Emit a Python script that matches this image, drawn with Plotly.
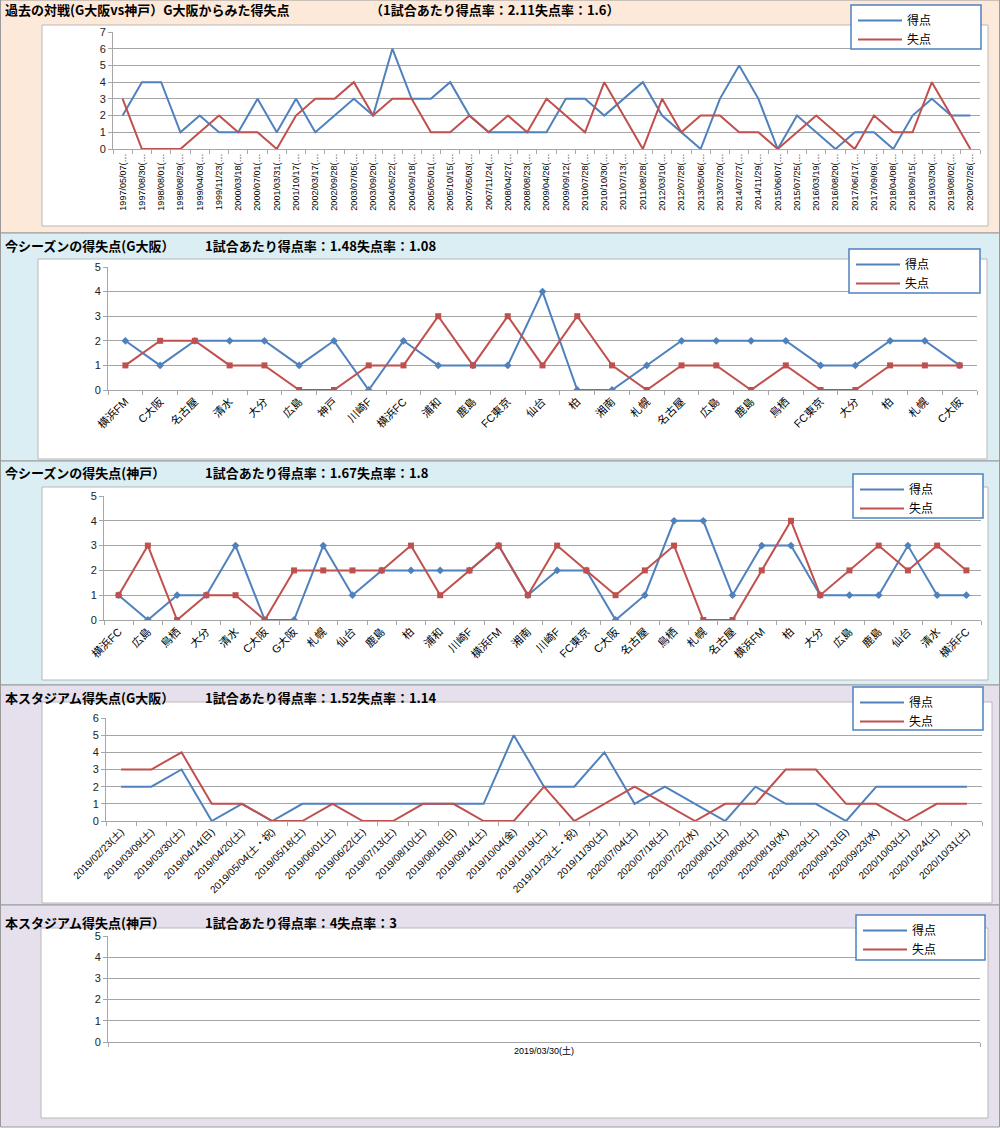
import plotly.graph_objects as go

W, H = 1000, 1128
BLUE = "#4F81BD"
RED = "#C0504D"
GRID = "#A6A6A6"
FONT = "Liberation Sans, Noto Sans CJK JP"
JFONT = "Noto Sans CJK JP"

# ---------------- Panel 1: past matches ----------------
p1_dates = ["1997/05/07", "1997/08/30", "1998/08/01", "1998/08/29", "1999/04/03", "1999/11/23",
            "2000/03/18", "2000/07/01", "2001/03/31", "2001/10/17", "2002/03/17", "2002/09/28",
            "2003/07/05", "2003/09/20", "2004/05/22", "2004/09/18", "2005/05/01", "2005/10/15",
            "2007/05/03", "2007/11/24", "2008/04/27", "2008/08/23", "2009/04/26", "2009/09/12",
            "2010/07/28", "2010/10/30", "2011/07/13", "2011/08/28", "2012/03/10", "2012/07/28",
            "2013/05/06", "2013/07/20", "2014/07/27", "2014/11/29", "2015/06/07", "2015/07/25",
            "2016/03/19", "2016/08/20", "2017/06/17", "2017/09/09", "2018/04/08", "2018/09/15",
            "2019/03/30", "2019/08/02", "2020/07/26"]
p1_for = [2, 4, 4, 1, 2, 1, 1, 3, 1, 3, 1, 2, 3, 2, 6, 3, 3, 4, 2, 1, 1, 1, 1, 3, 3, 2, 3, 4, 2, 1,
          0, 3, 5, 3, 0, 2, 1, 0, 1, 1, 0, 2, 3, 2, 2]
p1_against = [3, 0, 0, 0, 1, 2, 1, 1, 0, 2, 3, 3, 4, 2, 3, 3, 1, 1, 2, 1, 2, 1, 3, 2, 1, 4, 2, 0, 3, 1,
              2, 2, 1, 1, 0, 1, 2, 1, 0, 2, 1, 1, 4, 2, 0]
p1_labels = [d + "(…" for d in p1_dates]

# ---------------- Panel 2: this season G Osaka ----------------
p2_teams = ["横浜FM", "C大阪", "名古屋", "清水", "大分", "広島", "神戸", "川崎F", "横浜FC", "浦和",
            "鹿島", "FC東京", "仙台", "柏", "湘南", "札幌", "名古屋", "広島", "鹿島", "鳥栖",
            "FC東京", "大分", "柏", "札幌", "C大阪"]
p2_for = [2, 1, 2, 2, 2, 1, 2, 0, 2, 1, 1, 1, 4, 0, 0, 1, 2, 2, 2, 2, 1, 1, 2, 2, 1]
p2_against = [1, 2, 2, 1, 1, 0, 0, 1, 1, 3, 1, 3, 1, 3, 1, 0, 1, 1, 0, 1, 0, 0, 1, 1, 1]

# ---------------- Panel 3: this season Kobe ----------------
p3_teams = ["横浜FC", "広島", "鳥栖", "大分", "清水", "C大阪", "G大阪", "札幌", "仙台", "鹿島",
            "柏", "浦和", "川崎F", "横浜FM", "湘南", "川崎F", "FC東京", "C大阪", "名古屋", "鳥栖",
            "札幌", "名古屋", "横浜FM", "柏", "大分", "広島", "鹿島", "仙台", "清水", "横浜FC"]
p3_for = [1, 0, 1, 1, 3, 0, 0, 3, 1, 2, 2, 2, 2, 3, 1, 2, 2, 0, 1, 4, 4, 1, 3, 3, 1, 1, 1, 3, 1, 1]
p3_against = [1, 3, 0, 1, 1, 0, 2, 2, 2, 2, 3, 1, 2, 3, 1, 3, 2, 1, 2, 3, 0, 0, 2, 4, 1, 2, 3, 2, 3, 2]

# ---------------- Panel 4: stadium G Osaka ----------------
p4_dates = ["2019/02/23(土)", "2019/03/09(土)", "2019/03/30(土)", "2019/04/14(日)", "2019/04/20(土)",
            "2019/05/04(土・祝)", "2019/05/18(土)", "2019/06/01(土)", "2019/06/22(土)", "2019/07/13(土)",
            "2019/08/10(土)", "2019/08/18(日)", "2019/09/14(土)", "2019/10/04(金)", "2019/10/19(土)",
            "2019/11/23(土・祝)", "2019/11/30(土)", "2020/07/04(土)", "2020/07/18(土)", "2020/07/22(水)",
            "2020/08/01(土)", "2020/08/08(土)", "2020/08/19(水)", "2020/08/29(土)", "2020/09/13(日)",
            "2020/09/23(水)", "2020/10/03(土)", "2020/10/24(土)", "2020/10/31(土)"]
p4_for = [2, 2, 3, 0, 1, 0, 1, 1, 1, 1, 1, 1, 1, 5, 2, 2, 4, 1, 2, 1, 0, 2, 1, 1, 0, 2, 2, 2, 2]
p4_against = [3, 3, 4, 1, 1, 0, 0, 1, 0, 0, 1, 1, 0, 0, 2, 0, 1, 2, 1, 0, 1, 1, 3, 3, 1, 1, 0, 1, 1]

# ---------------- Panel 5: stadium Kobe ----------------
p5_dates = ["2019/03/30(土)"]
p5_for = [4]
p5_against = [3]

series_names = ["得点", "失点"]

titles = [
    ("過去の対戦(G大阪vs神戸）G大阪からみた得失点", "（1試合あたり得点率：2.11失点率：1.6）"),
    ("今シーズンの得失点(G大阪）", "1試合あたり得点率：1.48失点率：1.08"),
    ("今シーズンの得失点(神戸）", "1試合あたり得点率：1.67失点率：1.8"),
    ("本スタジアム得失点(G大阪）", "1試合あたり得点率：1.52失点率：1.14"),
    ("本スタジアム得失点(神戸）", "1試合あたり得点率：4失点率：3"),
]

panels = [
    dict(labels=p1_labels, f=p1_for, a=p1_against, ymax=7, xdom=(113, 980), ydom=(149, 32),
         angle=-90, fs=9, markers=False, bg=(0, 233, "#FDE9D9"), box=(42, 25, 988, 226),
         leg=(851, 5, 981, 49), title_y=10, sub_x=368),
    dict(labels=p2_teams, f=p2_for, a=p2_against, ymax=5, xdom=(108, 977), ydom=(390, 267),
         angle=-45, fs=11, markers=True, bg=(233, 461, "#DAEEF3"), box=(38, 259, 987, 459),
         leg=(849, 249, 980, 293), title_y=245, sub_x=203),
    dict(labels=p3_teams, f=p3_for, a=p3_against, ymax=5, xdom=(104, 981), ydom=(620, 496),
         angle=-45, fs=11, markers=True, bg=(461, 685, "#DAEEF3"), box=(42, 487, 988, 680),
         leg=(853, 474, 983, 518), title_y=472, sub_x=203),
    dict(labels=p4_dates, f=p4_for, a=p4_against, ymax=6, xdom=(106, 982), ydom=(821, 718),
         angle=-45, fs=10, markers=False, bg=(685, 905, "#E5E0EC"), box=(42, 702, 992, 903),
         leg=(853, 687, 983, 730), title_y=697, sub_x=203),
    dict(labels=p5_dates, f=p5_for, a=p5_against, ymax=5, xdom=(108, 980), ydom=(1042, 936),
         angle=0, fs=9, markers=False, bg=(905, 1127, "#E5E0EC"), box=(41, 928, 988, 1118),
         leg=(856, 915, 985, 960), title_y=922, sub_x=203),
]

fig = go.Figure()
shapes = []
annotations = []
layout = {}


def px_x(v):
    return v / W


def px_y(v):
    return 1 - v / H


for i, p in enumerate(panels):
    k = i + 1
    sx = "" if k == 1 else str(k)
    n = len(p["labels"])
    xs = list(range(n))
    legname = "legend" if k == 1 else "legend%d" % k
    for name, vals, col, sym in [(series_names[0], p["f"], BLUE, "diamond"),
                                 (series_names[1], p["a"], RED, "square")]:
        fig.add_trace(go.Scatter(
            x=xs, y=vals, name=name, mode="lines",
            line=dict(color=col, width=2),
            xaxis="x" + sx, yaxis="y" + sx, legend=legname, showlegend=True,
        ))
        if p["markers"]:
            fig.add_trace(go.Scatter(
                x=xs, y=vals, name=name, mode="markers",
                marker=dict(symbol=sym, size=6, color=col),
                xaxis="x" + sx, yaxis="y" + sx, legend=legname, showlegend=False,
            ))
    layout["xaxis" + sx] = dict(
        domain=[px_x(p["xdom"][0]), px_x(p["xdom"][1])], anchor="y" + sx,
        range=[-0.5, n - 0.5], tickmode="array", tickvals=xs, ticktext=p["labels"],
        tickangle=p["angle"], ticks="", showgrid=False, zeroline=False,
        showline=True, linecolor=GRID, linewidth=1, automargin=False,
        tickfont=dict(family=FONT, size=p["fs"], color="#000000"),
        minor=dict(tickmode="array", tickvals=[j - 0.5 for j in range(n + 1)],
                   ticks="outside", ticklen=4, tickcolor=GRID, showgrid=False),
        fixedrange=True,
    )
    layout["yaxis" + sx] = dict(
        domain=[px_y(p["ydom"][0]), px_y(p["ydom"][1])], anchor="x" + sx,
        range=[0, p["ymax"]], dtick=1, tick0=0, showgrid=True, gridcolor=GRID, gridwidth=1,
        zeroline=False, showline=True, linecolor=GRID, linewidth=1, automargin=False,
        ticks="outside", ticklen=4, tickcolor=GRID,
        tickfont=dict(family=FONT, size=11, color="#222222"), fixedrange=True,
    )
    # panel background
    y0, y1, col = p["bg"]
    shapes.append(dict(type="rect", xref="paper", yref="paper", layer="below",
                       x0=px_x(0.5), x1=px_x(999.5), y0=px_y(y0), y1=px_y(y1),
                       fillcolor=col, line=dict(color="#9A9A9A", width=1)))
    bx0, by0, bx1, by1 = p["box"]
    shapes.append(dict(type="rect", xref="paper", yref="paper", layer="below",
                       x0=px_x(bx0), x1=px_x(bx1), y0=px_y(by0), y1=px_y(by1),
                       fillcolor="#FFFFFF", line=dict(color="#B8B8B8", width=1)))
    lx0, ly0, lx1, ly1 = p["leg"]
    shapes.append(dict(type="rect", xref="paper", yref="paper", layer="above",
                       x0=px_x(lx0), x1=px_x(lx1), y0=px_y(ly0), y1=px_y(ly1),
                       fillcolor="#FFFFFF", line=dict(color=BLUE, width=1.5)))
    layout[legname] = dict(
        x=px_x(lx0 + 2), y=px_y(ly0 + 1), xanchor="left", yanchor="top",
        bgcolor="rgba(0,0,0,0)", borderwidth=0, itemwidth=44,
        font=dict(family=JFONT, size=12, color="#000000"), tracegroupgap=0,
        itemclick=False, itemdoubleclick=False,
    )
    t1, t2 = titles[i]
    annotations.append(dict(text=t1, xref="paper", yref="paper", x=px_x(3), y=px_y(p["title_y"]),
                            xanchor="left", yanchor="middle", showarrow=False,
                            font=dict(family=JFONT, size=13, color="#000000", weight="bold")))
    annotations.append(dict(text=t2, xref="paper", yref="paper", x=px_x(p["sub_x"]), y=px_y(p["title_y"]),
                            xanchor="left", yanchor="middle", showarrow=False,
                            font=dict(family=JFONT, size=13, color="#000000", weight="bold")))

fig.update_layout(
    width=W, height=H, margin=dict(l=0, r=0, t=0, b=0, autoexpand=False),
    paper_bgcolor="#FFFFFF", plot_bgcolor="rgba(0,0,0,0)",
    shapes=shapes, annotations=annotations, hovermode=False,
    **layout,
)

fig.write_html("out.html", config={"displayModeBar": False},
               post_script="document.body.style.margin='0';document.body.style.overflow='hidden';")
